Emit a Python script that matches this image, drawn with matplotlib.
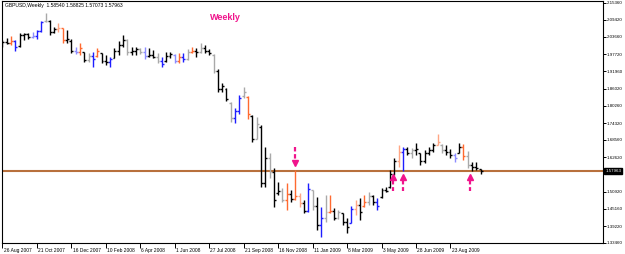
import numpy as np
import matplotlib
matplotlib.use('Agg')
import matplotlib.pyplot as plt
import matplotlib.transforms as mtransforms

plt.rcParams['font.family'] = ['Liberation Sans', 'DejaVu Sans']

# weekly GBPUSD bars, 26 Aug 2007 ... Oct 2009
opens = [2.008, 2.018, 2.016, 2.022, 2.005, 2.042, 2.045, 2.035, 2.040, 2.055,
         2.090, 2.092, 2.053, 2.062, 2.066, 2.025, 2.024, 1.990, 1.985, 1.984,
         1.958, 1.972, 1.970, 1.980, 1.955, 1.950, 1.965, 1.990, 2.010, 2.025,
         1.985, 1.990, 1.995, 1.985, 1.970, 1.975, 1.968, 1.955, 1.955, 1.970,
         1.975, 1.955, 1.968, 1.960, 1.985, 1.990, 1.985, 2.000, 1.990, 1.976,
         1.920, 1.860, 1.860, 1.812, 1.760, 1.785, 1.835, 1.832, 1.768, 1.690,
         1.730, 1.540, 1.625, 1.575, 1.505, 1.510, 1.480, 1.500, 1.485, 1.495,
         1.470, 1.445, 1.515, 1.460, 1.395, 1.420, 1.440, 1.445, 1.420, 1.437,
         1.405, 1.403, 1.450, 1.465, 1.460, 1.475, 1.495, 1.475, 1.490, 1.515,
         1.525, 1.570, 1.615, 1.645, 1.655, 1.640, 1.650, 1.640, 1.615, 1.640,
         1.650, 1.668, 1.670, 1.650, 1.645, 1.635, 1.641, 1.660, 1.630, 1.600,
         1.595, 1.5854]
highs = [2.026, 2.033, 2.040, 2.026, 2.050, 2.050, 2.050, 2.053, 2.060, 2.091,
         2.118, 2.094, 2.070, 2.084, 2.068, 2.060, 2.028, 2.002, 2.016, 1.985,
         1.982, 1.985, 1.999, 1.982, 1.975, 1.968, 1.999, 2.022, 2.043, 2.029,
         2.002, 2.002, 1.999, 2.002, 1.999, 1.992, 1.982, 1.968, 1.985, 1.985,
         1.978, 1.982, 1.982, 1.995, 2.002, 1.999, 2.016, 2.009, 1.995, 1.978,
         1.927, 1.880, 1.862, 1.815, 1.794, 1.839, 1.866, 1.835, 1.771, 1.763,
         1.736, 1.661, 1.641, 1.590, 1.542, 1.522, 1.539, 1.515, 1.583, 1.505,
         1.481, 1.539, 1.515, 1.491, 1.457, 1.498, 1.498, 1.454, 1.447, 1.437,
         1.420, 1.461, 1.481, 1.488, 1.498, 1.508, 1.498, 1.488, 1.522, 1.525,
         1.583, 1.624, 1.668, 1.661, 1.661, 1.658, 1.675, 1.641, 1.651, 1.661,
         1.675, 1.706, 1.672, 1.668, 1.655, 1.641, 1.675, 1.672, 1.648, 1.610,
         1.610, 1.58825]
lows = [2.003, 2.012, 2.009, 1.989, 2.003, 2.026, 2.029, 2.033, 2.029, 2.053,
        2.088, 2.043, 2.050, 2.053, 2.016, 2.016, 1.982, 1.978, 1.975, 1.951,
        1.951, 1.934, 1.968, 1.948, 1.941, 1.934, 1.965, 1.975, 2.002, 1.975,
        1.975, 1.975, 1.978, 1.961, 1.968, 1.965, 1.948, 1.934, 1.951, 1.965,
        1.948, 1.948, 1.951, 1.958, 1.982, 1.968, 1.983, 1.982, 1.975, 1.914,
        1.849, 1.849, 1.818, 1.747, 1.743, 1.774, 1.829, 1.757, 1.679, 1.689,
        1.525, 1.525, 1.556, 1.457, 1.498, 1.474, 1.447, 1.474, 1.481, 1.457,
        1.437, 1.440, 1.447, 1.379, 1.355, 1.406, 1.437, 1.413, 1.418, 1.396,
        1.369, 1.403, 1.430, 1.413, 1.457, 1.464, 1.464, 1.447, 1.488, 1.508,
        1.522, 1.566, 1.593, 1.580, 1.634, 1.624, 1.634, 1.600, 1.607, 1.634,
        1.644, 1.668, 1.641, 1.634, 1.624, 1.610, 1.641, 1.617, 1.590, 1.580,
        1.583, 1.57073]
closes = [2.018, 2.016, 2.022, 2.003, 2.042, 2.045, 2.035, 2.040, 2.055, 2.086,
          2.092, 2.053, 2.062, 2.066, 2.025, 2.030, 1.990, 1.985, 1.998, 1.958,
          1.972, 1.960, 1.990, 1.955, 1.950, 1.962, 1.990, 2.010, 2.025, 1.985,
          1.990, 1.995, 1.985, 1.970, 1.975, 1.968, 1.955, 1.945, 1.970, 1.978,
          1.955, 1.968, 1.960, 1.985, 1.990, 1.985, 2.000, 1.990, 1.980, 1.920,
          1.860, 1.870, 1.825, 1.760, 1.785, 1.830, 1.850, 1.775, 1.690, 1.740,
          1.540, 1.625, 1.575, 1.480, 1.510, 1.480, 1.500, 1.485, 1.495, 1.470,
          1.445, 1.520, 1.460, 1.395, 1.420, 1.440, 1.445, 1.420, 1.440, 1.405,
          1.390, 1.450, 1.465, 1.440, 1.475, 1.495, 1.475, 1.460, 1.515, 1.512,
          1.570, 1.615, 1.645, 1.655, 1.640, 1.650, 1.655, 1.615, 1.640, 1.650,
          1.668, 1.680, 1.650, 1.645, 1.635, 1.625, 1.660, 1.630, 1.600, 1.595,
          1.590, 1.57963]
# k black, g grey, b blue, l light blue, o orange, s light orange
bar_colors = ("kkobkkklbbgkksokklokgbokkbkkkgkkglkkgbkklobgokgkkgkkkgbbgokgkkgkkgok"
              "oskbgkbgokgkkbskogkbkkkksbkgkkkkksgkklkogkkk")

level = 1.57963
yticks = [1.33460, 1.39220, 1.45160, 1.50920, 1.62620, 1.68560, 1.74320,
          1.80260, 1.86020, 1.91960, 1.97720, 2.03660, 2.09420, 2.15360]
date_bars = [0, 8, 16, 24, 32, 40, 48, 56, 64, 72, 80, 88, 96, 104]
date_labels = ['26 Aug 2007', '21 Oct 2007', '16 Dec 2007', '10 Feb 2008',
               '6 Apr 2008', '1 Jun 2008', '27 Jul 2008', '21 Sep 2008',
               '16 Nov 2008', '11 Jan 2009', '8 Mar 2009', '3 May 2009',
               '28 Jun 2009', '23 Aug 2009']
down_arrows = [67.9]
up_arrows = [90.7, 93.0, 108.5]

color_map = {'k': '#000000', 'g': '#a9a9a9', 'b': '#1e1eff', 'l': '#8c8cff',
             'o': '#ff6a30', 's': '#ffa684'}
pink = '#f0148c'

fig = plt.figure(figsize=(6.25, 2.54), dpi=100)
ax = fig.add_axes([2/625, 11/254, 601/625, 242/254])

x = np.arange(len(opens))
cols = [color_map[c] for c in bar_colors[:len(opens)]]
ax.vlines(x, lows, highs, colors=cols, lw=1.0)
ax.hlines(opens, x - 0.45, x, colors=cols, lw=1.0)
ax.hlines(closes, x, x + 0.45, colors=cols, lw=1.0)

ax.axhline(level, color='#b8703c', lw=1.5, zorder=1)

# arrows around the level
px = 0.003406  # price per pixel
for xa in down_arrows:
    ax.plot([xa, xa], [level + 24*px, level + 11*px], color=pink, lw=1.6, ls=(0, (2, 1.2)))
    ax.plot(xa, level + 8*px, marker='v', ms=5, color=pink, mec=pink)
for xa in up_arrows:
    ax.plot([xa, xa], [level - 9*px, level - 20*px], color=pink, lw=1.6, ls=(0, (2, 1.2)))
    ax.plot(xa, level - 6*px, marker='^', ms=5, color=pink, mec=pink)

ax.set_xlim(-0.1, 139.4)
ax.set_ylim(1.3346, 2.1588)

ax.yaxis.tick_right()
ax.set_yticks(yticks)
ax.set_yticklabels(['%.5f' % v for v in yticks])
ax.tick_params(axis='y', length=2, width=0.7, labelsize=3.2, pad=0.8)

ax.set_xticks(date_bars)
ax.set_xticklabels(date_labels)
ax.tick_params(axis='x', length=3.5, width=0.7, labelsize=3.5, pad=0.3)
shift = mtransforms.ScaledTranslation(1.2/100, 0, fig.dpi_scale_trans)
for lab in ax.get_xticklabels():
    lab.set_ha('left')
    lab.set_transform(lab.get_transform() + shift)

for s in ax.spines.values():
    s.set_linewidth(0.8)

# current price box
trans = mtransforms.blended_transform_factory(ax.transAxes, ax.transData)
ax.text(1.004, level, '%.5f' % level, transform=trans, ha='left', va='center',
        fontsize=3.2, color='white',
        bbox=dict(facecolor='black', edgecolor='black', pad=0.7))

fig.text(5/625, 1 - 5.5/254, 'GBPUSD,Weekly  1.58540 1.58825 1.57073 1.57963',
         fontsize=3.6, va='center', ha='left')
fig.text(210/625, 1 - 18/254, 'Weekly', fontsize=6.5, fontweight='bold',
         color=pink, va='center', ha='left')

fig.savefig('out.png', dpi=100)
